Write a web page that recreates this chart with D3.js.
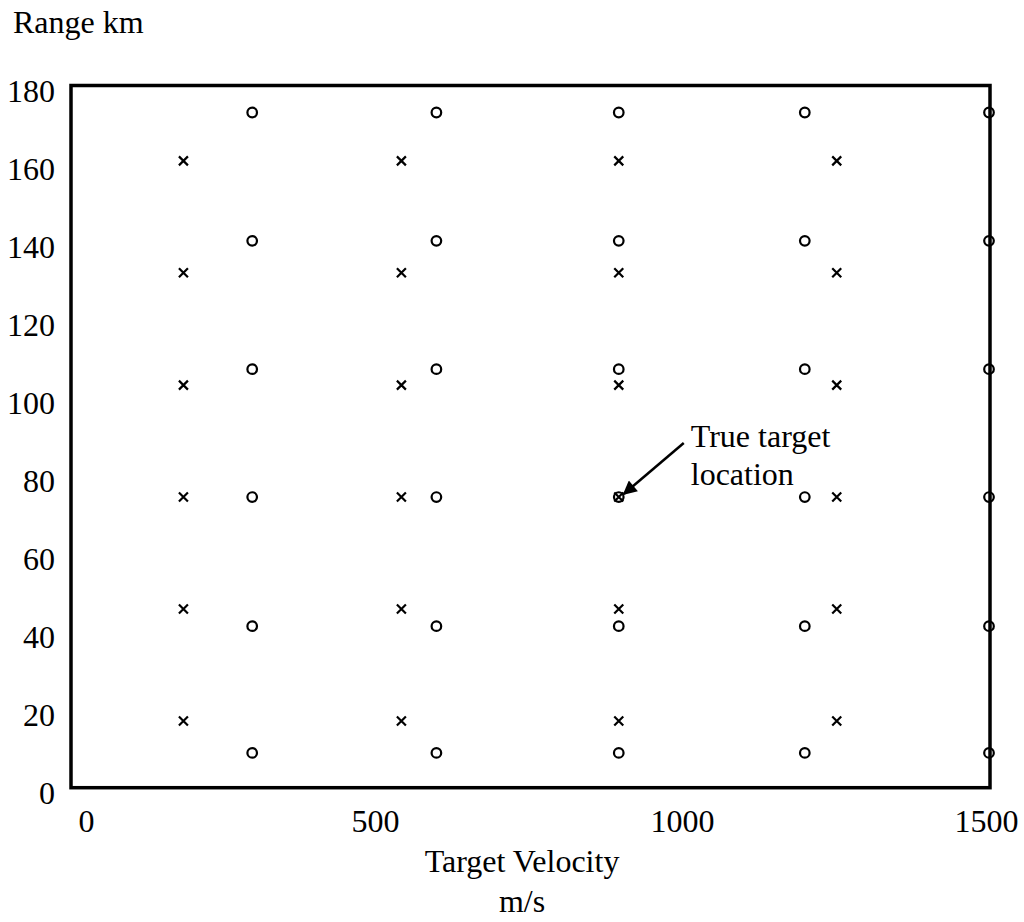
<!DOCTYPE html>
<html>
<head>
<meta charset="utf-8">
<script src="https://cdn.jsdelivr.net/npm/d3@7"></script>
<style>
  html, body { margin: 0; padding: 0; background: #fff; }
  svg { display: block; }
  text { font-family: "Liberation Serif", "Times New Roman", serif; fill: #000; }
</style>
</head>
<body>
<svg id="chart" width="1024" height="922"></svg>
<script>
// ---- data ----
const xTicks = [0, 500, 1000, 1500];
const yTicks = [0, 20, 40, 60, 80, 100, 120, 140, 160, 180];
const circleVelocities = [300, 600, 897, 1200, 1500];
const circleRanges = [9.0, 41.5, 74.6, 107.4, 140.3, 173.2];
const crossVelocities = [188, 543, 897, 1252];
const crossRanges = [17.2, 45.9, 74.6, 103.3, 132.1, 160.8];
const trueTarget = { v: 897, r: 74.6, label: ["True target", "location"] };
const yTitle = "Range km";
const xTitle = ["Target Velocity", "m/s"];

// ---- layout ----
const svg = d3.select("#chart");
const x = d3.scaleLinear().domain([0, 1500]).range([68, 989]);
const y = d3.scaleLinear().domain([0, 180]).range([788, 86]);
const frame = { left: 71, right: 990, top: 85.5, bottom: 787.7 };

// arrow marker
svg.append("defs").append("marker")
  .attr("id", "arrow").attr("viewBox", "0 0 10 10")
  .attr("refX", 9).attr("refY", 5)
  .attr("markerWidth", 21).attr("markerHeight", 14)
  .attr("markerUnits", "userSpaceOnUse")
  .attr("orient", "auto")
  .append("path").attr("d", "M0,0 L10,5 L0,10 Z").attr("fill", "#000");

// axes (labels only)
const fs = 32;
const gx = svg.append("g").attr("transform", `translate(0,${frame.bottom})`)
  .call(d3.axisBottom(x).tickValues(xTicks).tickSize(0).tickPadding(22).tickFormat(d3.format("d")));
gx.select(".domain").remove();
gx.selectAll("text").style("font-size", fs + "px").style("font-family", "Liberation Serif");
gx.selectAll(".tick").filter(d => d === 0).select("text").attr("dx", 18);
gx.selectAll(".tick").filter(d => d === 1500).select("text").attr("dx", -3);

const gy = svg.append("g").attr("transform", `translate(${frame.left},0)`)
  .call(d3.axisLeft(y).tickValues(yTicks).tickSize(0).tickPadding(16).tickFormat(d3.format("d")));
gy.select(".domain").remove();
gy.selectAll("text").attr("dy", "0.47em").style("font-size", fs + "px").style("font-family", "Liberation Serif");

// frame
svg.append("rect")
  .attr("x", frame.left).attr("y", frame.top)
  .attr("width", frame.right - frame.left).attr("height", frame.bottom - frame.top)
  .attr("fill", "none").attr("stroke", "#000").attr("stroke-width", 3.5);

// circles
const circData = circleVelocities.flatMap(v => circleRanges.map(r => ({ v, r })));
svg.append("g").selectAll("circle").data(circData).join("circle")
  .attr("cx", d => x(d.v)).attr("cy", d => y(d.r)).attr("r", 4.8)
  .attr("fill", "none").attr("stroke", "#000").attr("stroke-width", 2.2);

// crosses
const crossData = crossVelocities.flatMap(v => crossRanges.map(r => ({ v, r })));
const s = 4.5;
svg.append("g").selectAll("path").data(crossData).join("path")
  .attr("d", d => {
    const cx = x(d.v), cy = y(d.r);
    return `M${cx - s},${cy - s}L${cx + s},${cy + s}M${cx - s},${cy + s}L${cx + s},${cy - s}`;
  })
  .attr("fill", "none").attr("stroke", "#000").attr("stroke-width", 2.2);

// annotation
const tx = x(trueTarget.v), ty = y(trueTarget.r);
svg.append("line")
  .attr("x1", tx + 65).attr("y1", ty - 54)
  .attr("x2", tx + 5).attr("y2", ty - 3)
  .attr("stroke", "#000").attr("stroke-width", 2.5)
  .attr("marker-end", "url(#arrow)");
svg.append("text").attr("x", tx + 72).attr("y", ty - 50)
  .style("font-size", fs + "px").text(trueTarget.label[0]);
svg.append("text").attr("x", tx + 72).attr("y", ty - 12)
  .style("font-size", fs + "px").text(trueTarget.label[1]);

// titles
svg.append("text").attr("x", 13).attr("y", 33).style("font-size", fs + "px").text(yTitle);
svg.append("text").attr("x", 522).attr("y", 872).attr("text-anchor", "middle")
  .style("font-size", fs + "px").text(xTitle[0]);
svg.append("text").attr("x", 522).attr("y", 912).attr("text-anchor", "middle")
  .style("font-size", fs + "px").text(xTitle[1]);
</script>
</body>
</html>
